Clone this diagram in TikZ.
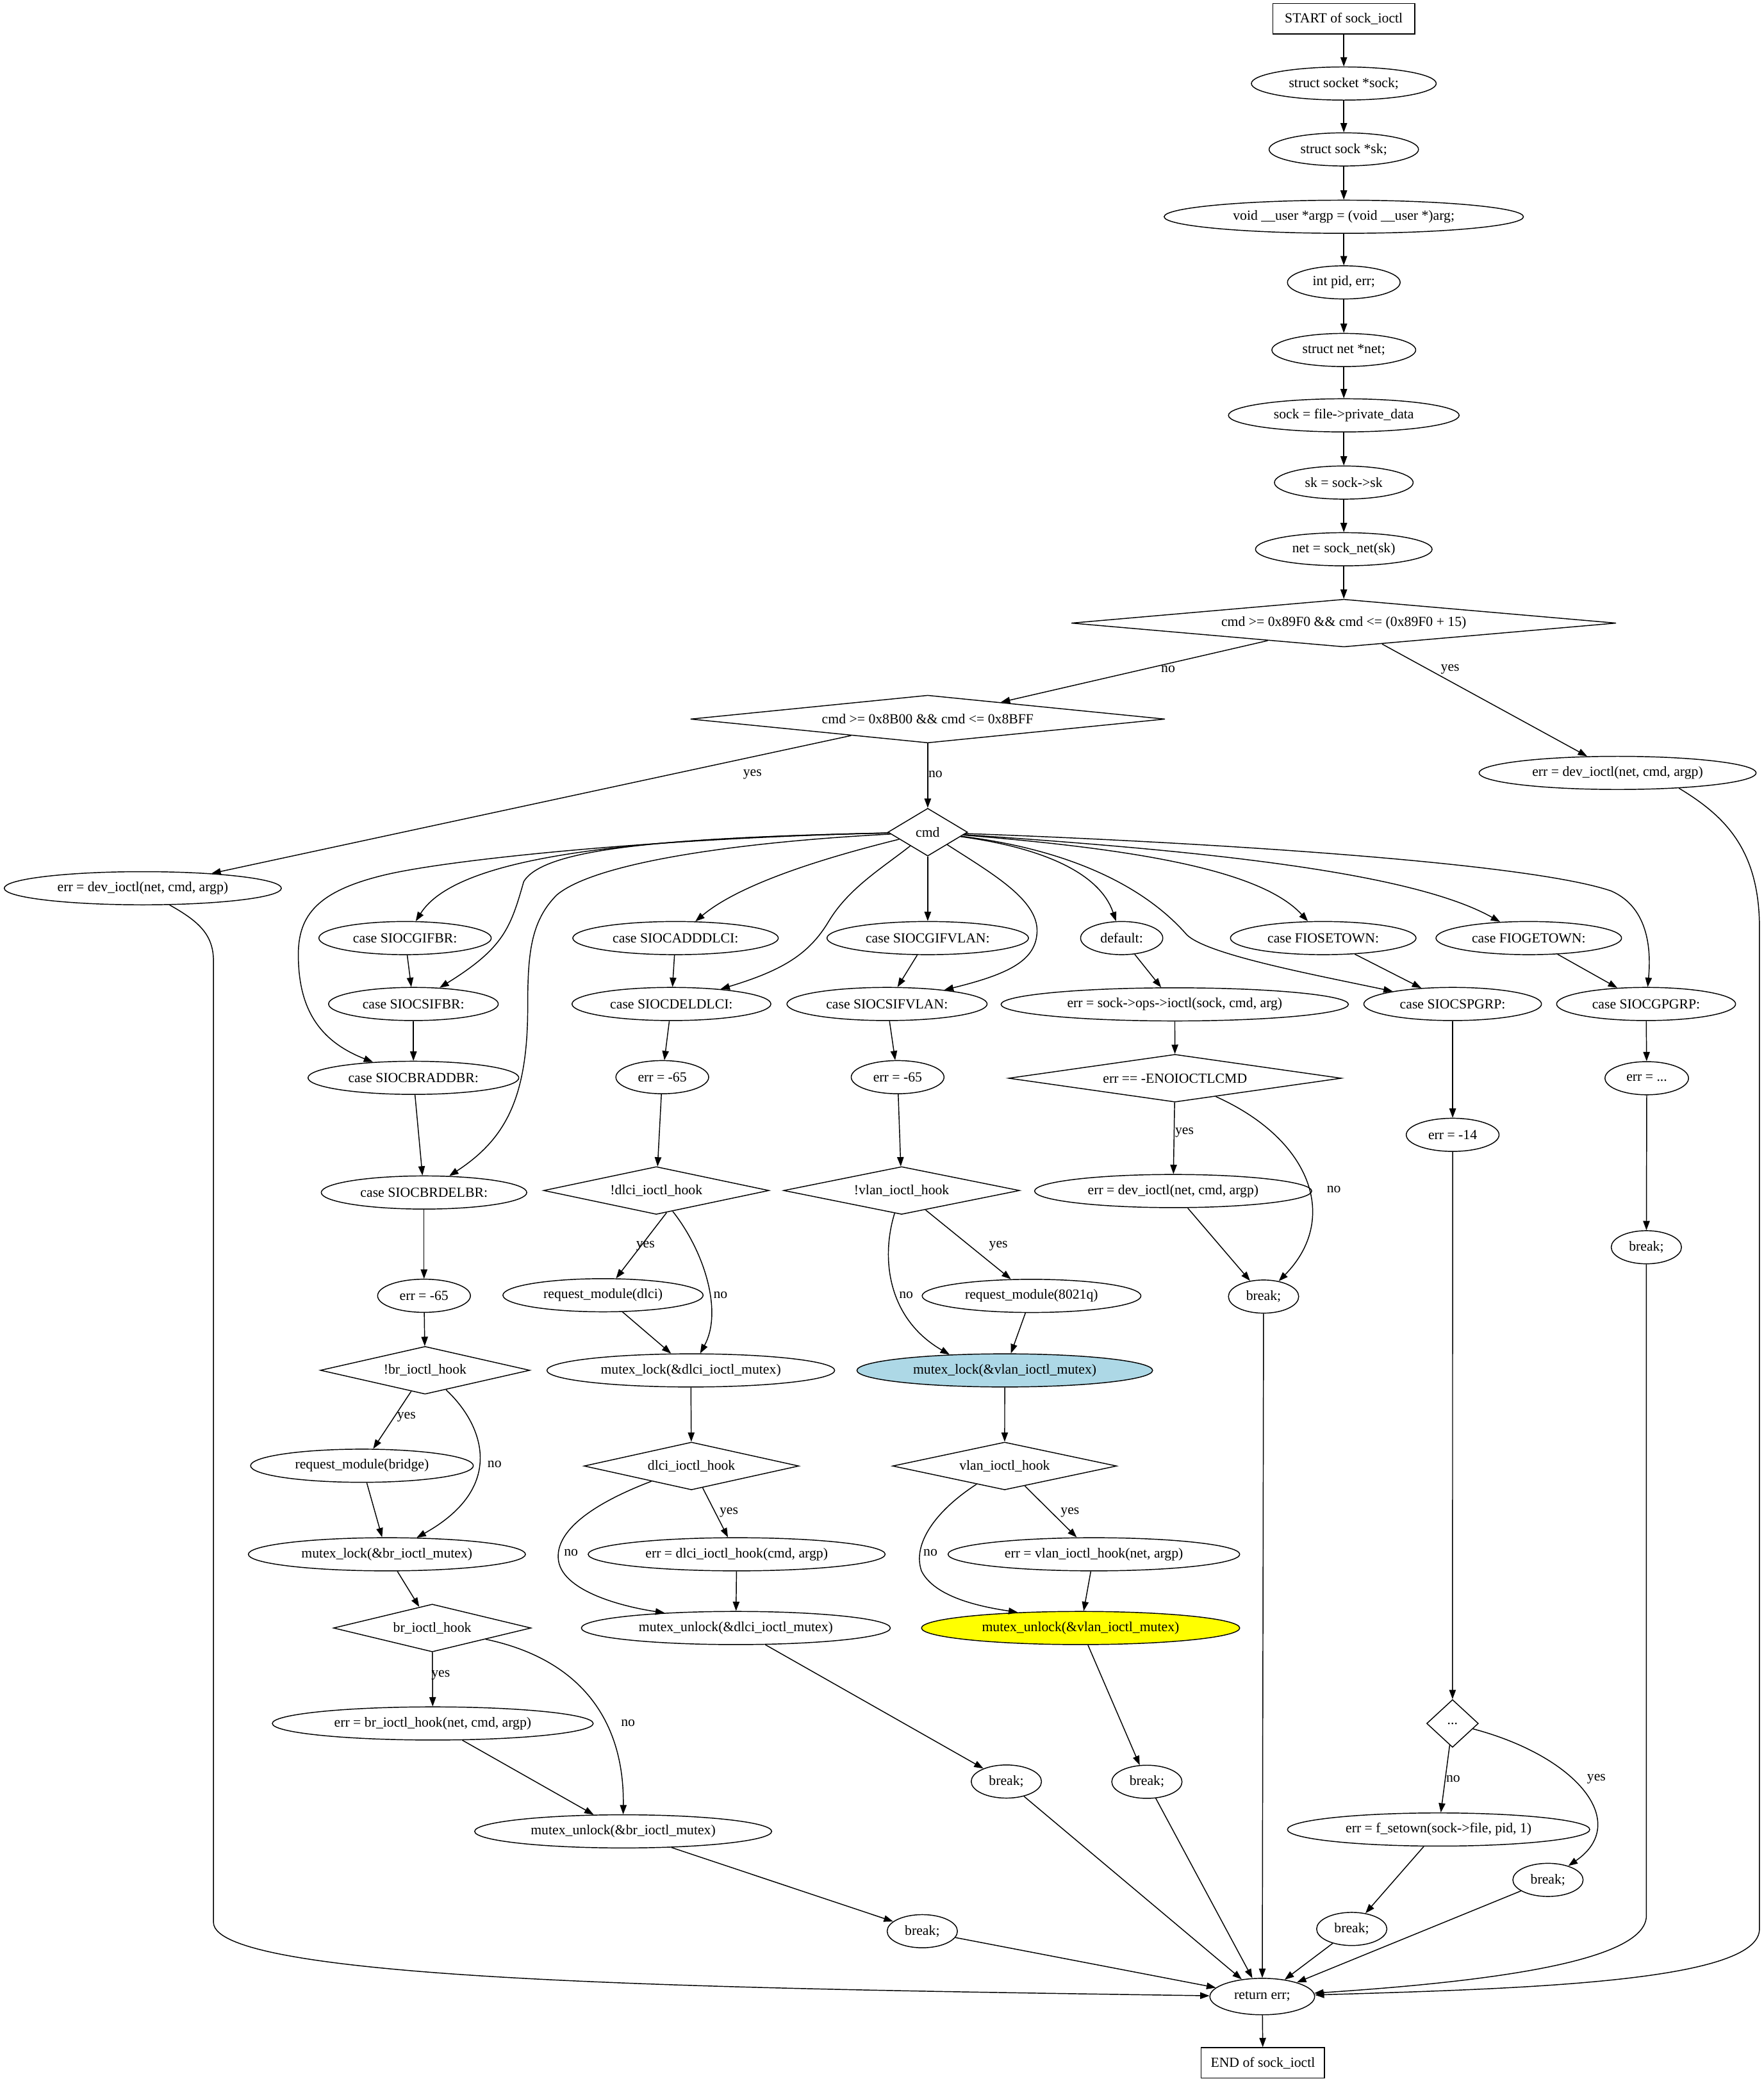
\documentclass[tikz,border=0pt]{standalone}
\usepackage{fontspec}
\setmainfont{Liberation Serif}
\usetikzlibrary{shapes.geometric,arrows.meta}
\newcommand{\nfont}{\fontsize{10.5}{12}\selectfont}
\definecolor{lblue}{HTML}{ADD8E6}
\definecolor{yel}{HTML}{FFFF00}
\begin{document}
\begin{tikzpicture}[x=1pt,y=-1pt,
  base/.style={draw,line width=0.7pt,font=\nfont,inner sep=0pt},
  ell/.style={base,ellipse,minimum height=25pt},
  bx/.style={base,rectangle,minimum height=23pt},
  dia/.style={base,diamond,minimum height=36pt},
  lbl/.style={font=\nfont,inner sep=0pt},
  arr/.style={line width=0.7pt,-{Triangle[length=7pt,width=5pt]}}]
\useasboundingbox (0,0) rectangle (1330,1568.2);

% ---------- nodes ----------
\node[bx,minimum width=107pt] (start) at (1013.5,14.2) {START of sock\_ioctl};
\node[ell,minimum width=139.4pt] (n1) at (1013.5,63) {struct socket *sock;};
\node[ell,minimum width=112.7pt] (n2) at (1013.5,112.7) {struct sock *sk;};
\node[ell,minimum width=271pt] (n3) at (1013.5,163.5) {void \_\_user *argp = (void \_\_user *)arg;};
\node[ell,minimum width=85pt] (n4) at (1013.5,213) {int pid, err;};
\node[ell,minimum width=108.5pt] (n5) at (1013.5,264) {struct net *net;};
\node[ell,minimum width=174pt] (n6) at (1013.5,313.3) {sock = file->private\_data};
\node[ell,minimum width=104.6pt] (n7) at (1013.5,364) {sk = sock->sk};
\node[ell,minimum width=133.2pt] (n8) at (1013.5,414.3) {net = sock\_net(sk)};
\node[dia,minimum width=411pt,shape aspect=11.4] (d1) at (1013.5,470) {cmd >= 0x89F0 \&\& cmd <= (0x89F0 + 15)};
\node[dia,minimum width=358pt,shape aspect=9.94] (d2) at (699.7,542.4) {cmd >= 0x8B00 \&\& cmd <= 0x8BFF};
\node[ell,minimum width=209pt] (errR) at (1220,583) {err = dev\_ioctl(net, cmd, argp)};
\node[ell,minimum width=209pt] (errL) at (107.7,670) {err = dev\_ioctl(net, cmd, argp)};
\node[dia,minimum width=60pt,shape aspect=1.67] (cmd) at (699.7,627.7) {cmd};

\node[ell,minimum width=130pt] (gifbr) at (305.5,707.6) {case SIOCGIFBR:};
\node[ell,minimum width=155pt] (adddlci) at (509.5,707.6) {case SIOCADDDLCI:};
\node[ell,minimum width=152pt] (gifvlan) at (699.7,707.6) {case SIOCGIFVLAN:};
\node[ell,minimum width=62pt] (default) at (846,707.6) {default:};
\node[ell,minimum width=140pt] (fiosetown) at (998,707.6) {case FIOSETOWN:};
\node[ell,minimum width=140pt] (fiogetown) at (1153,707.6) {case FIOGETOWN:};

\node[ell,minimum width=128pt] (sifbr) at (311.8,757.3) {case SIOCSIFBR:};
\node[ell,minimum width=150pt] (deldlci) at (506.4,757.3) {case SIOCDELDLCI:};
\node[ell,minimum width=151pt] (sifvlan) at (669,757.3) {case SIOCSIFVLAN:};
\node[ell,minimum width=262pt] (errsock) at (886,757.6) {err = sock->ops->ioctl(sock, cmd, arg)};
\node[ell,minimum width=134pt] (spgrp) at (1095.6,757.3) {case SIOCSPGRP:};
\node[ell,minimum width=135pt] (gpgrp) at (1241.5,757.3) {case SIOCGPGRP:};

\node[ell,minimum width=159pt] (braddbr) at (311.8,813) {case SIOCBRADDBR:};
\node[ell,minimum width=70pt] (em65d) at (499.5,812.5) {err = -65};
\node[ell,minimum width=70pt] (em65v) at (677,812.5) {err = -65};
\node[dia,minimum width=251pt,shape aspect=6.97] (eno) at (886.2,813.3) {err == -ENOIOCTLCMD};
\node[ell,minimum width=63pt] (errdots) at (1242,813.3) {err = ...};

\node[ell,minimum width=155pt] (brdelbr) at (319.8,899.5) {case SIOCBRDELBR:};
\node[dia,minimum width=170pt,shape aspect=4.72] (ndlci) at (495,898) {!dlci\_ioctl\_hook};
\node[dia,minimum width=178pt,shape aspect=4.94] (nvlan) at (680,898) {!vlan\_ioctl\_hook};
\node[ell,minimum width=209pt] (errdev4) at (884.8,898.4) {err = dev\_ioctl(net, cmd, argp)};
\node[ell,minimum width=70pt] (em14) at (1095.6,856) {err = -14};

\node[ell,minimum width=70pt] (em65b) at (319.8,977.4) {err = -65};
\node[ell,minimum width=151pt] (rmdlci) at (454.8,977) {request\_module(dlci)};
\node[ell,minimum width=165pt] (rm8021q) at (778,977.5) {request\_module(8021q)};
\node[ell,minimum width=53pt] (brk4) at (953,978) {break;};
\node[ell,minimum width=53pt] (brkG) at (1241.7,940.8) {break;};

\node[dia,minimum width=158pt,shape aspect=4.39] (nbr) at (320.6,1033.6) {!br\_ioctl\_hook};
\node[ell,minimum width=217pt] (mldlci) at (521,1033.7) {mutex\_lock(\&dlci\_ioctl\_mutex)};
\node[ell,minimum width=223pt,fill=lblue] (mlvlan) at (757.8,1033.7) {mutex\_lock(\&vlan\_ioctl\_mutex)};

\node[ell,minimum width=168pt] (rmbridge) at (273,1105.6) {request\_module(bridge)};
\node[dia,minimum width=162pt,shape aspect=4.5] (hdlci) at (521.5,1105.8) {dlci\_ioctl\_hook};
\node[dia,minimum width=169pt,shape aspect=4.69] (hvlan) at (757.7,1105.8) {vlan\_ioctl\_hook};

\node[ell,minimum width=209pt] (mlbr) at (291.8,1172.4) {mutex\_lock(\&br\_ioctl\_mutex)};
\node[ell,minimum width=224pt] (errdlci) at (555.6,1172.4) {err = dlci\_ioctl\_hook(cmd, argp)};
\node[ell,minimum width=220pt] (errvlan) at (825,1172.4) {err = vlan\_ioctl\_hook(net, argp)};

\node[dia,minimum width=149pt,shape aspect=4.14] (hbr) at (326,1228) {br\_ioctl\_hook};
\node[ell,minimum width=233pt] (mudlci) at (555,1228) {mutex\_unlock(\&dlci\_ioctl\_mutex)};
\node[ell,minimum width=240pt,fill=yel] (muvlan) at (815,1228) {mutex\_unlock(\&vlan\_ioctl\_mutex)};

\node[ell,minimum width=242pt] (errbr) at (326.4,1300) {err = br\_ioctl\_hook(net, cmd, argp)};
\node[dia,minimum width=39pt,shape aspect=1.08] (dots) at (1095.5,1300) {...};

\node[ell,minimum width=224pt] (mubr) at (470,1381.4) {mutex\_unlock(\&br\_ioctl\_mutex)};
\node[ell,minimum width=228pt] (setown) at (1085,1380) {err = f\_setown(sock->file, pid, 1)};
\node[ell,minimum width=53pt] (brkd) at (759,1343.8) {break;};
\node[ell,minimum width=53pt] (brkv) at (865,1344) {break;};
\node[ell,minimum width=53pt] (brkS) at (1167.5,1418) {break;};
\node[ell,minimum width=53pt] (brkb) at (695.6,1456.7) {break;};
\node[ell,minimum width=53pt] (brkF) at (1019.5,1455) {break;};
\node[ell,minimum width=79pt,minimum height=27.5pt] (ret) at (952,1506) {return err;};
\node[bx,minimum width=93pt] (endb) at (952.5,1556) {END of sock\_ioctl};

% ---------- edges ----------
\draw[arr] (start) -- (n1);
\draw[arr] (n1) -- (n2);
\draw[arr] (n2) -- (n3);
\draw[arr] (n3) -- (n4);
\draw[arr] (n4) -- (n5);
\draw[arr] (n5) -- (n6);
\draw[arr] (n6) -- (n7);
\draw[arr] (n7) -- (n8);
\draw[arr] (n8) -- (d1);
\draw[arr] (d1) -- (d2);
\draw[arr] (d1) -- (errR);
\draw[arr] (d2) -- (errL);
\draw[arr] (d2) -- (cmd);

\draw[arr] (errL.-32) .. controls (150,695) and (161,705) .. (161,725) -- (161,1450) .. controls (161,1495) and (550,1500) .. (ret);
\draw[arr] (errR.-14) .. controls (1300,615) and (1327,640) .. (1327,700) -- (1327,1455) .. controls (1327,1495) and (1150,1500) .. (ret);

% fan out of cmd
\draw[arr] (cmd) .. controls (480,632) and (345,645) .. (gifbr);
\draw[arr] (cmd) .. controls (500,632) and (410,640) .. (395,665) .. controls (385,700) and (380,715) .. (sifbr);
\draw[arr] (cmd) .. controls (500,632) and (340,648) .. (290,660) .. controls (240,672) and (225,690) .. (225,720) .. controls (225,760) and (240,785) .. (braddbr);
\draw[arr] (cmd) .. controls (560,635) and (450,650) .. (420,675) .. controls (400,695) and (398,720) .. (398,760) .. controls (398,830) and (380,860) .. (brdelbr);
\draw[arr] (cmd) .. controls (630,645) and (560,665) .. (adddlci);
\draw[arr] (cmd) .. controls (665,655) and (640,670) .. (625,695) .. controls (610,720) and (590,732) .. (deldlci);
\draw[arr] (cmd) -- (gifvlan);
\draw[arr] (cmd) .. controls (750,660) and (785,680) .. (782,705) .. controls (780,725) and (760,735) .. (sifvlan);
\draw[arr] (cmd) .. controls (790,640) and (830,660) .. (default);
\draw[arr] (cmd) .. controls (800,640) and (860,665) .. (895,705) .. controls (910,720) and (990,735) .. (spgrp);
\draw[arr] (cmd) .. controls (850,640) and (950,655) .. (fiosetown);
\draw[arr] (cmd) .. controls (880,640) and (1060,655) .. (fiogetown);
\draw[arr] (cmd) .. controls (900,635) and (1150,650) .. (1215,672) .. controls (1245,685) and (1245,720) .. (gpgrp);

% bridge column
\draw[arr] (gifbr) -- (sifbr);
\draw[arr] (sifbr) -- (braddbr);
\draw[arr] (braddbr) -- (brdelbr);
\draw[arr] (brdelbr) -- (em65b);
\draw[arr] (em65b) -- (nbr);
\draw[arr] (nbr) -- (rmbridge);
\draw[arr] (nbr) .. controls (365,1075) and (382,1122) .. (mlbr);
\draw[arr] (rmbridge) -- (mlbr);
\draw[arr] (mlbr) -- (hbr);
\draw[arr] (hbr) -- (errbr);
\draw[arr] (hbr) .. controls (440,1252) and (471,1300) .. (mubr.north);
\draw[arr] (errbr) -- (mubr);
\draw[arr] (mubr) -- (brkb);
\draw[arr] (brkb) -- (ret);

% dlci column
\draw[arr] (adddlci) -- (deldlci);
\draw[arr] (deldlci) -- (em65d);
\draw[arr] (em65d) -- (ndlci);
\draw[arr] (ndlci.-65) -- (rmdlci);
\draw[arr] (ndlci) .. controls (532,945) and (545,990) .. (mldlci);
\draw[arr] (rmdlci) -- (mldlci);
\draw[arr] (mldlci) -- (hdlci);
\draw[arr] (hdlci) -- (errdlci);
\draw[arr] (hdlci) .. controls (445,1135) and (420,1155) .. (421,1175) .. controls (422,1200) and (470,1212) .. (mudlci.168);
\draw[arr] (errdlci) -- (mudlci);
\draw[arr] (mudlci) -- (brkd);
\draw[arr] (brkd) -- (ret);

% vlan column
\draw[arr] (gifvlan) -- (sifvlan);
\draw[arr] (sifvlan) -- (em65v);
\draw[arr] (em65v) -- (nvlan);
\draw[arr] (nvlan) -- (rm8021q);
\draw[arr] (nvlan) .. controls (664,950) and (670,995) .. (mlvlan.164);
\draw[arr] (rm8021q) -- (mlvlan);
\draw[arr] (mlvlan) -- (hvlan);
\draw[arr] (hvlan) -- (errvlan);
\draw[arr] (hvlan) .. controls (705,1140) and (688,1165) .. (695,1185) .. controls (705,1205) and (740,1212) .. (muvlan.166);
\draw[arr] (errvlan) -- (muvlan);
\draw[arr] (muvlan) -- (brkv);
\draw[arr] (brkv) -- (ret);

% default column
\draw[arr] (default) -- (errsock);
\draw[arr] (errsock) -- (eno);
\draw[arr] (eno) -- (errdev4);
\draw[arr] (eno) .. controls (990,860) and (1010,920) .. (brk4);
\draw[arr] (errdev4) -- (brk4);
\draw[arr] (brk4) -- (ret);

% pgrp columns
\draw[arr] (fiosetown) -- (spgrp);
\draw[arr] (fiogetown) -- (gpgrp);
\draw[arr] (spgrp) -- (em14);
\draw[arr] (em14) -- (dots);
\draw[arr] (dots) -- (setown);
\draw[arr] (dots) .. controls (1190,1325) and (1230,1375) .. (brkS);
\draw[arr] (setown) -- (brkF);
\draw[arr] (brkF) -- (ret);
\draw[arr] (brkS) -- (ret);
\draw[arr] (gpgrp) -- (errdots);
\draw[arr] (errdots) -- (brkG);
\draw[arr] (brkG) -- (1241.7,1445) .. controls (1241.7,1480) and (1120,1495) .. (ret);
\draw[arr] (ret) -- (endb);

% ---------- edge labels ----------
\node[lbl] (l1) at (881,505) {no};
\node[lbl] (l2) at (1093.7,505) {yes};
\node[lbl] (l3) at (567.5,584) {yes};
\node[lbl] (l4) at (705.5,584) {no};
\node[lbl] (l5) at (893.3,854.5) {yes};
\node[lbl] (l6) at (1006,897) {no};
\node[lbl] (l7) at (486.8,939.6) {yes};
\node[lbl] (l8) at (543.4,977) {no};
\node[lbl] (l9) at (753,939.6) {yes};
\node[lbl] (l10) at (683.4,977) {no};
\node[lbl] (l11) at (306.5,1068.6) {yes};
\node[lbl] (l12) at (373,1104.6) {no};
\node[lbl] (l13) at (549.7,1140.7) {yes};
\node[lbl] (l14) at (430.7,1171.2) {no};
\node[lbl] (l15) at (807,1140.7) {yes};
\node[lbl] (l16) at (701.7,1171.2) {no};
\node[lbl] (l17) at (332.4,1263.6) {yes};
\node[lbl] (l18) at (473.7,1299.6) {no};
\node[lbl] (l19) at (1096,1342) {no};
\node[lbl] (l20) at (1204,1342) {yes};
\end{tikzpicture}
\end{document}
